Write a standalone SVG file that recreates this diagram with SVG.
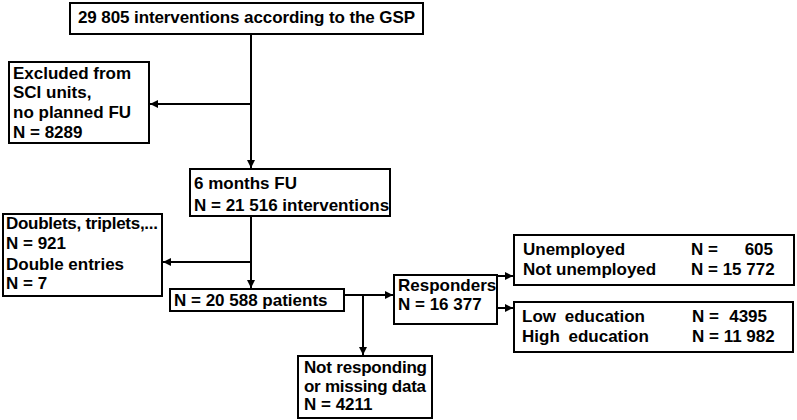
<svg xmlns="http://www.w3.org/2000/svg" width="797" height="420" viewBox="0 0 797 420">
<defs>
<style>
.box{fill:#fff;stroke:#000;stroke-width:2}
.t{font-family:"Liberation Sans",Arial,sans-serif;font-weight:bold;font-size:17px;fill:#000}
.w{word-spacing:4px}
.c{fill:none;stroke:#000;stroke-width:2}
</style>
<marker id="ah" viewBox="0 0 10 10" refX="10" refY="5" markerWidth="4" markerHeight="4" orient="auto" markerUnits="strokeWidth">
<path d="M0,0 L10,5 L0,10 z" fill="#000"/>
</marker>
</defs>
<rect width="797" height="420" fill="#fff"/>
<g id="connectors">
<path class="c" d="M251,34 V168" marker-end="url(#ah)"/>
<path class="c" d="M251,104 H150" marker-end="url(#ah)"/>
<path class="c" d="M251,216 V288" marker-end="url(#ah)"/>
<path class="c" d="M251,262 H163" marker-end="url(#ah)"/>
<path class="c" d="M344,295 H393" marker-end="url(#ah)"/>
<path class="c" d="M363,295 V355" marker-end="url(#ah)"/>
<path class="c" d="M497,276 H513" marker-end="url(#ah)"/>
<path class="c" d="M497,308 H513" marker-end="url(#ah)"/>
</g>
<g id="n-total">
<rect class="box" x="70" y="3" width="353" height="31"/>
<text class="t" x="78" y="23" textLength="337">29 805 interventions according to the GSP</text>
</g>
<g id="n-excluded">
<rect class="box" x="9" y="62" width="140" height="81"/>
<text class="t" x="13" y="79">Excluded from</text>
<text class="t" x="13" y="98">SCI units,</text>
<text class="t" x="13" y="118">no planned FU</text>
<text class="t" x="13" y="138">N = 8289</text>
</g>
<g id="n-6months">
<rect class="box" x="190" y="169" width="200" height="47"/>
<text class="t" x="194" y="189">6 months FU</text>
<text class="t" x="194" y="211">N = 21 516 interventions</text>
</g>
<g id="n-doublets">
<rect class="box" x="3" y="214" width="159" height="82"/>
<text class="t" x="6" y="229" textLength="152">Doublets, triplets,...</text>
<text class="t" x="6" y="249">N = 921</text>
<text class="t" x="6" y="270">Double entries</text>
<text class="t" x="6" y="289">N = 7</text>
</g>
<g id="n-patients">
<rect class="box" x="170" y="289" width="174" height="22"/>
<text class="t" x="174" y="306">N = 20 588 patients</text>
</g>
<g id="n-responders">
<rect class="box" x="394" y="275" width="103" height="49"/>
<text class="t" x="398" y="291">Responders</text>
<text class="t" x="398" y="310">N = 16 377</text>
</g>
<g id="n-employment">
<rect class="box" x="514" y="235" width="280" height="50"/>
<text class="t" x="523" y="255">Unemployed</text>
<text class="t" x="523" y="275">Not unemployed</text>
<text class="t" x="691" y="255">N =</text>
<text class="t" x="773" y="255" text-anchor="end">605</text>
<text class="t" x="691" y="275">N = 15 772</text>
</g>
<g id="n-education">
<rect class="box" x="514" y="302" width="279" height="50"/>
<text class="t w" x="522" y="322">Low education</text>
<text class="t w" x="522" y="342">High education</text>
<text class="t" x="692" y="322">N =</text>
<text class="t" x="767" y="322" text-anchor="end">4395</text>
<text class="t" x="692" y="342">N = 11 982</text>
</g>
<g id="n-notresponding">
<rect class="box" x="298" y="356" width="134" height="62"/>
<text class="t" x="304" y="373" textLength="123">Not responding</text>
<text class="t" x="304" y="392" textLength="122">or missing data</text>
<text class="t" x="304" y="410">N = 4211</text>
</g>
</svg>
